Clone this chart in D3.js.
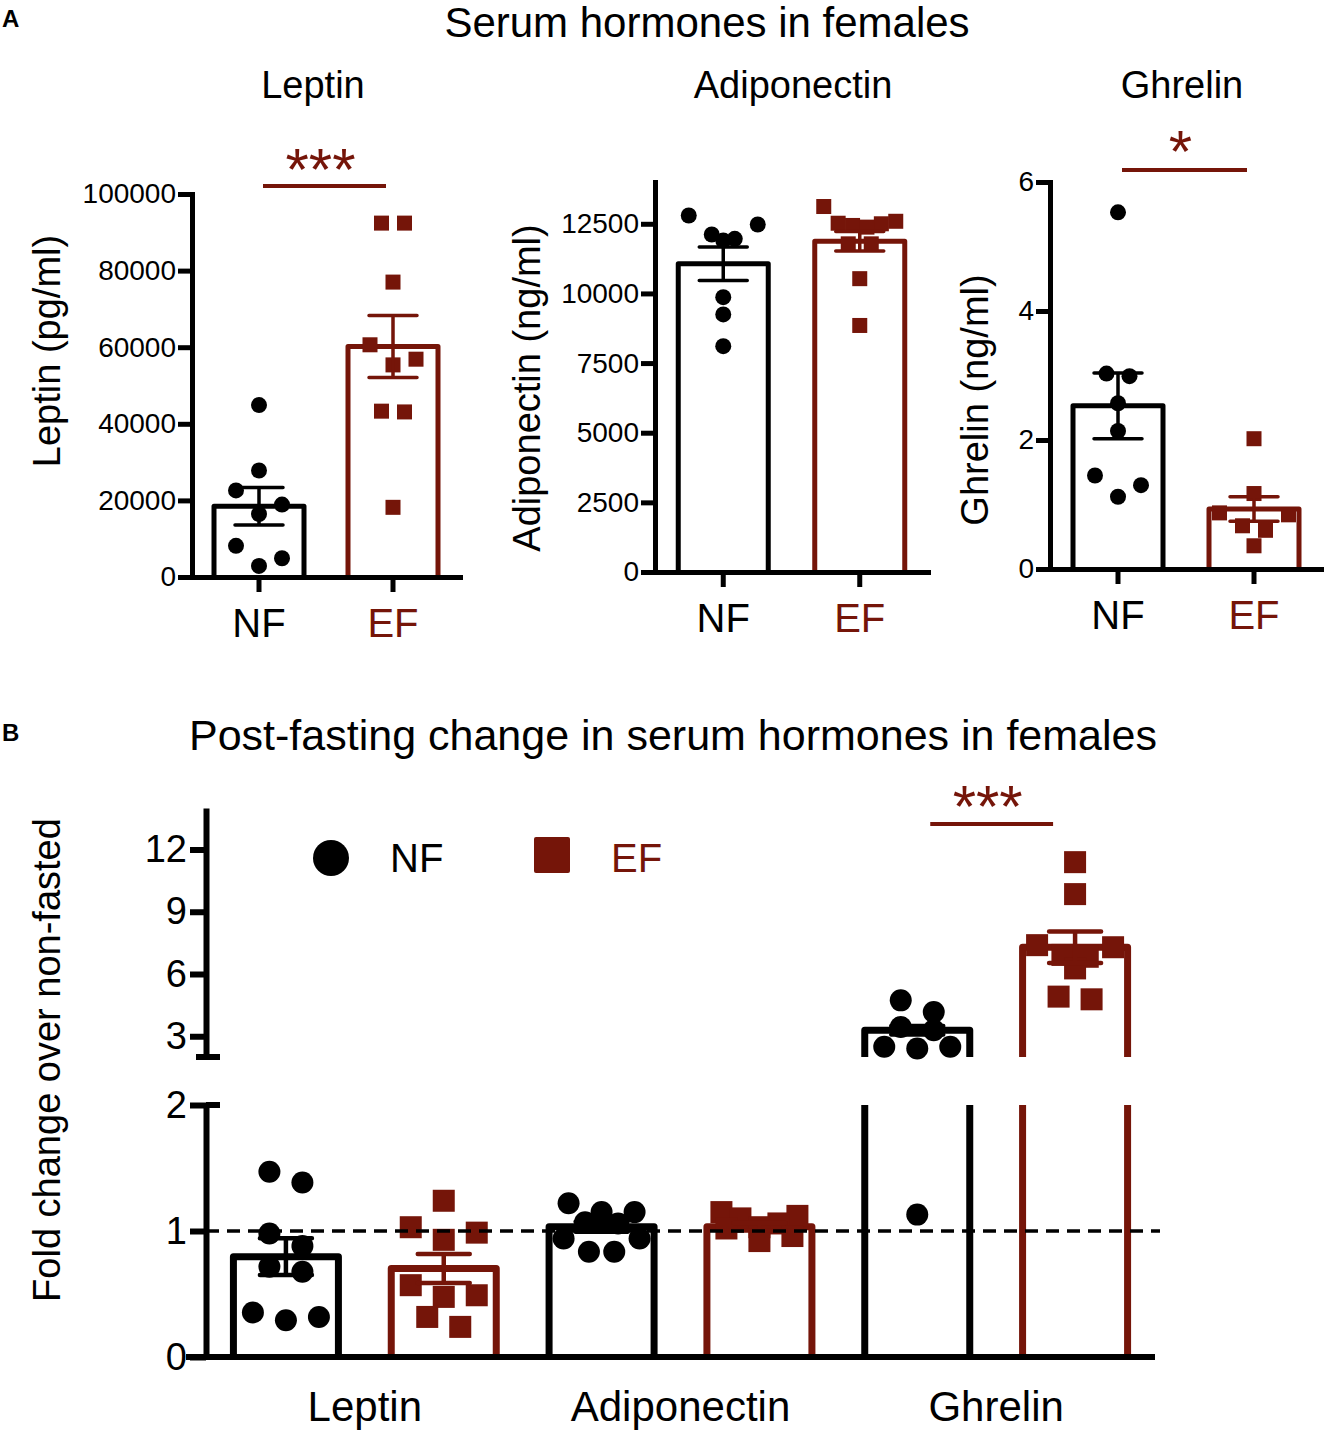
<!DOCTYPE html>
<html>
<head>
<meta charset="utf-8">
<script src="https://cdn.jsdelivr.net/npm/d3@7"></script>
<style>
  body { margin: 0; background: #fff; }
</style>
</head>
<body>
<svg id="fig" width="1324" height="1433"></svg>
<script>
// ── Data ──────────────────────────────────────────────────────────────────────
const GROUPS   = ['NF', 'EF'];
const HORMONES = ['Leptin', 'Adiponectin', 'Ghrelin'];

// Panel A: serum levels, individual animals
const leptinNF  = [44900, 27800, 22600, 18900, 16450, 8140, 4900, 2900];
const leptinEF  = [92400, 92400, 77000, 60630, 56870, 55380, 43300, 43100, 18190];
const leptinMean = [18480, 60200];
const leptinSem  = [4900, 8100];
const leptinTicks = [0, 20000, 40000, 60000, 80000, 100000];

const adipoNF  = [12798, 12475, 12116, 11960, 11900, 9866, 9245, 8108];
const adipoEF  = [13120, 12590, 12520, 12500, 12440, 12380, 11780, 11780, 10530, 8850];
const adipoMean = [11065, 11876];
const adipoSem  = [600, 350];
const adipoTicks = [0, 2500, 5000, 7500, 10000, 12500];

const ghrelinNF  = [5.53, 3.03, 2.99, 2.57, 2.14, 1.45, 1.30, 1.12];
const ghrelinEF  = [2.02, 1.17, 0.87, 0.84, 0.67, 0.60, 0.36];
const ghrelinMean = [2.53, 0.93];
const ghrelinSem  = [0.51, 0.19];
const ghrelinTicks = [0, 2, 4, 6];

// Panel B: fold change over non-fasted
const foldLeptinNF  = [1.47, 1.385, 0.98, 0.88, 0.716, 0.676, 0.353, 0.318, 0.292];
const foldLeptinEF  = [1.24, 1.03, 0.987, 0.93, 0.57, 0.49, 0.477, 0.318, 0.239];
const foldAdipoNF   = [1.22, 1.15, 1.15, 1.07, 1.06, 0.94, 0.94, 0.836, 0.836];
const foldAdipoEF   = [1.15, 1.12, 1.10, 1.06, 1.03, 1.02, 0.96, 0.92];
const foldGhrelinNF = [4.73, 4.17, 3.45, 3.29, 2.49, 2.49, 2.41, 1.13];
const foldGhrelinEF = [11.39, 9.85, 7.39, 7.29, 6.92, 6.83, 6.27, 4.91, 4.78];
const foldMean = [[0.796, 0.703], [1.034, 1.034], [3.29, 7.29]];
const foldSem  = [[0.146, 0.115], [0.04, 0.03], [0.2, 0.76]];
const foldTicksLow  = [0, 1, 2];
const foldTicksHigh = [3, 6, 9, 12];


// ── Setup ─────────────────────────────────────────────────────────────────────
const FONT = '"Liberation Sans", Arial, Helvetica, sans-serif';
const RED  = '#751509';
const svg  = d3.select('#fig').attr('font-family', FONT);

svg.append('rect').attr('width', 1324).attr('height', 1433).attr('fill', '#fff');

function text(x, y, str, size, opts = {}) {
    return svg.append('text')
        .attr('x', x).attr('y', y)
        .attr('font-size', size)
        .attr('text-anchor', opts.anchor || 'middle')
        .attr('font-weight', opts.bold ? 700 : null)
        .attr('fill', opts.color || '#000')
        .text(str);
}

function vtext(x, y, str, size) {
    return svg.append('text')
        .attr('transform', `translate(${x},${y}) rotate(-90)`)
        .attr('font-size', size)
        .attr('text-anchor', 'middle')
        .text(str);
}

// GraphPad-like scatter: points close in height share a row and are spread
// symmetrically, outermost first; crowded rows are squeezed to fit the bar.
function rowOffsets(ys, step, limit, gap, span) {
    const order = ys.map((_, i) => i).sort((a, b) => ys[a] - ys[b]);
    const rows = [];
    order.forEach(i => {
        const row = rows.at(-1);
        if (row && ys[i] - ys[row.at(-1)] < gap && ys[i] - ys[row[0]] < span) row.push(i);
        else rows.push([i]);
    });
    const dx = new Array(ys.length).fill(0);
    rows.forEach(row => {
        const n = row.length;
        if (n < 2) return;
        const st = Math.min(step, 2 * limit / (n - 1));
        const slots = d3.range(n).map(k => k - (n - 1) / 2)
            .sort((a, b) => Math.abs(b) - Math.abs(a) || a - b);
        row.forEach((i, k) => { dx[i] = slots[k] * st; });
    });
    return dx;
}

function drawMarks(g, key, pts, size) {
    if (key === 'NF') {
        g.selectAll(null).data(pts).join('circle')
            .attr('cx', d => d.x).attr('cy', d => d.y)
            .attr('r', size / 2)
            .attr('fill', '#000');
    } else {
        g.selectAll(null).data(pts).join('rect')
            .attr('x', d => d.x - size / 2).attr('y', d => d.y - size / 2)
            .attr('width', size).attr('height', size)
            .attr('fill', RED);
    }
}

function errorBar(g, cx, yTop, yBot, capW, color, sw) {
    g.append('path')
        .attr('d', `M${cx},${yTop}V${yBot}M${cx - capW / 2},${yTop}H${cx + capW / 2}M${cx - capW / 2},${yBot}H${cx + capW / 2}`)
        .attr('fill', 'none')
        .attr('stroke', color)
        .attr('stroke-width', sw)
        .attr('stroke-linecap', 'round');
}

function sigMark(x1, x2, lineY, textY, str) {
    svg.append('line')
        .attr('x1', x1).attr('x2', x2)
        .attr('y1', lineY).attr('y2', lineY)
        .attr('stroke', RED).attr('stroke-width', 4);
    text((x1 + x2) / 2 - 4, textY, str, 60, { color: RED });
}


// ── Titles ────────────────────────────────────────────────────────────────────
text(2, 27, 'A', 24, { anchor: 'start', bold: true });
text(707, 37, 'Serum hormones in females', 42);
text(2, 741, 'B', 24, { anchor: 'start', bold: true });
text(673, 750, 'Post-fasting change in serum hormones in females', 43);


// ── Panel A ───────────────────────────────────────────────────────────────────
function panelA(p) {
    const y = d3.scaleLinear().domain(p.domain).range(p.yRange);
    const x = d3.scaleBand().domain(GROUPS).range(p.xRange);
    const base = y(0);
    const cx = k => x(k) + x.bandwidth() / 2;
    const BW = 90;
    const g = svg.append('g');

    const groups = [
        { key: 'NF', vals: p.nf, mean: p.mean[0], sem: p.sem[0], color: '#000' },
        { key: 'EF', vals: p.ef, mean: p.mean[1], sem: p.sem[1], color: RED },
    ];

    g.selectAll('path.bar')
        .data(groups)
        .join('path')
        .attr('class', 'bar')
        .attr('d', d => `M${cx(d.key) - BW / 2},${base}V${y(d.mean)}H${cx(d.key) + BW / 2}V${base}`)
        .attr('fill', 'none')
        .attr('stroke', d => d.color)
        .attr('stroke-width', 5)
        .attr('stroke-linejoin', 'round');

    groups.forEach(d => {
        const ys = d.vals.map(y);
        const dx = rowOffsets(ys, 23, 36, 15, 24);
        drawMarks(g, d.key, ys.map((yy, i) => ({ x: cx(d.key) + dx[i], y: yy })), d.key === 'NF' ? 16 : 15);
    });

    groups.forEach(d => errorBar(g, cx(d.key), y(d.mean + d.sem), y(d.mean - d.sem), 48, d.color, 3.5));

    // Axes
    const ay = svg.append('g')
        .attr('transform', `translate(${p.xRange[0]},0)`)
        .call(d3.axisLeft(y).tickValues(p.ticks).tickSize(14).tickSizeOuter(0).tickPadding(2).tickFormat(d3.format('d')));
    ay.attr('font-family', FONT).attr('font-size', 28);
    ay.select('.domain').attr('stroke-width', 5).attr('stroke-linecap', 'square');
    ay.selectAll('.tick line').attr('stroke-width', 5);
    ay.selectAll('.tick text').attr('fill', '#000');

    const ax = svg.append('g')
        .attr('transform', `translate(0,${base})`)
        .call(d3.axisBottom(x).tickSize(15).tickSizeOuter(0).tickPadding(17));
    ax.attr('font-family', FONT).attr('font-size', 40);
    ax.select('.domain').attr('stroke-width', 5).attr('stroke-linecap', 'square');
    ax.selectAll('.tick line').attr('stroke-width', 5);
    ax.selectAll('.tick text').attr('fill', d => d === 'EF' ? RED : '#000');

    text(p.titleX, 98, p.title, 38);
    vtext(p.labelX, p.labelY, p.label, 38);

    if (p.sig) {
        sigMark(cx('NF') + 4, cx('EF') - 7, p.sig.lineY, p.sig.textY, p.sig.text);
    }
}

panelA({
    nf: leptinNF, ef: leptinEF, mean: leptinMean, sem: leptinSem, ticks: leptinTicks,
    domain: [0, 100000], yRange: [577, 194], xRange: [192, 460],
    title: 'Leptin', titleX: 313, label: 'Leptin (pg/ml)', labelX: 60, labelY: 351,
    sig: { text: '***', lineY: 186, textY: 190 },
});

panelA({
    nf: adipoNF, ef: adipoEF, mean: adipoMean, sem: adipoSem, ticks: adipoTicks,
    domain: [0, 14000], yRange: [572, 182], xRange: [655, 928],
    title: 'Adiponectin', titleX: 793, label: 'Adiponectin (ng/ml)', labelX: 540, labelY: 388,
});

panelA({
    nf: ghrelinNF, ef: ghrelinEF, mean: ghrelinMean, sem: ghrelinSem, ticks: ghrelinTicks,
    domain: [0, 6], yRange: [569, 182], xRange: [1050, 1322],
    title: 'Ghrelin', titleX: 1182, label: 'Ghrelin (ng/ml)', labelX: 988, labelY: 400,
    sig: { text: '*', lineY: 170, textY: 172 },
});


// ── Panel B (broken y axis) ───────────────────────────────────────────────────
const AXB  = 206;
const yLo  = d3.scaleLinear().domain([0, 2]).range([1357, 1105]);
const yHi  = d3.scaleLinear().domain([2, 14]).range([1057, 808]);
const yB   = v => v <= 2 ? yLo(v) : yHi(v);
const xCat = d3.scaleBand().domain(HORMONES).range([207, 1154]);
const xGrp = d3.scaleBand().domain(GROUPS).range([0, xCat.bandwidth()]);
const cxB  = (h, k) => xCat(h) + xGrp(k) + xGrp.bandwidth() / 2;

const foldPoints = [
    [foldLeptinNF, foldLeptinEF],
    [foldAdipoNF, foldAdipoEF],
    [foldGhrelinNF, foldGhrelinEF],
];

const gB = svg.append('g');
const BWB = 105;

HORMONES.forEach((h, hi) => {
    GROUPS.forEach((k, ki) => {
        const m = foldMean[hi][ki];
        const color = k === 'EF' ? RED : '#000';
        const l = cxB(h, k) - BWB / 2, r = cxB(h, k) + BWB / 2;
        let d;
        if (m <= 2) {
            d = `M${l},${yLo(0)}V${yLo(m)}H${r}V${yLo(0)}`;
        } else {
            d = `M${l},${yLo(0)}V${yLo(2)}M${r},${yLo(0)}V${yLo(2)}` +
                `M${l},${yHi(2)}V${yHi(m)}H${r}V${yHi(2)}`;
        }
        gB.append('path')
            .attr('d', d)
            .attr('fill', 'none')
            .attr('stroke', color)
            .attr('stroke-width', 7)
            .attr('stroke-linejoin', 'round');
    });
});

HORMONES.forEach((h, hi) => {
    GROUPS.forEach((k, ki) => {
        const vals = foldPoints[hi][ki];
        const ys = vals.map(yB);
        const dx = rowOffsets(ys, 33, 38, 15, 16);
        drawMarks(gB, k, ys.map((yy, i) => ({ x: cxB(h, k) + dx[i], y: yy })), 22);
    });
});

HORMONES.forEach((h, hi) => {
    GROUPS.forEach((k, ki) => {
        const m = foldMean[hi][ki], s = foldSem[hi][ki];
        errorBar(gB, cxB(h, k), yB(m + s), yB(m - s), 52, k === 'EF' ? RED : '#000', 4.5);
    });
});

// Axes
const ayLo = svg.append('g')
    .attr('transform', `translate(${AXB},0)`)
    .call(d3.axisLeft(yLo).tickValues(foldTicksLow).tickSize(16).tickSizeOuter(0).tickPadding(3).tickFormat(d3.format('d')));
const ayHi = svg.append('g')
    .attr('transform', `translate(${AXB},0)`)
    .call(d3.axisLeft(yHi).tickValues(foldTicksHigh).tickSize(16).tickSizeOuter(0).tickPadding(3).tickFormat(d3.format('d')));
[ayLo, ayHi].forEach(a => {
    a.attr('font-family', FONT).attr('font-size', 38);
    a.select('.domain').attr('stroke-width', 6);
    a.selectAll('.tick line').attr('stroke-width', 6);
    a.selectAll('.tick text').attr('fill', '#000');
});

// break caps
svg.append('path')
    .attr('d', `M${AXB},${yLo(2)}H${AXB + 14}M${AXB - 10},${yHi(2)}H${AXB + 14}`)
    .attr('stroke', '#000').attr('stroke-width', 6);

svg.append('line')
    .attr('x1', 186).attr('x2', 1155)
    .attr('y1', yLo(0)).attr('y2', yLo(0))
    .attr('stroke', '#000').attr('stroke-width', 6);

HORMONES.forEach(h => text(xCat(h) + xCat.bandwidth() / 2, 1421, h, 42));

vtext(60, 1060, 'Fold change over non-fasted', 38);

// reference line at 1
svg.append('line')
    .attr('x1', AXB).attr('x2', 1160)
    .attr('y1', yLo(1)).attr('y2', yLo(1))
    .attr('stroke', '#000')
    .attr('stroke-width', 3.5)
    .attr('stroke-dasharray', '13,8');

sigMark(cxB('Ghrelin', 'NF') + 13, cxB('Ghrelin', 'EF') - 22, 824, 827, '***');

// Legend
svg.append('circle').attr('cx', 331).attr('cy', 858).attr('r', 18).attr('fill', '#000');
text(390, 872, 'NF', 40, { anchor: 'start' });
svg.append('rect').attr('x', 534).attr('y', 837).attr('width', 36).attr('height', 36).attr('rx', 2).attr('fill', RED);
text(611, 872, 'EF', 40, { anchor: 'start', color: RED });
</script>
</body>
</html>
